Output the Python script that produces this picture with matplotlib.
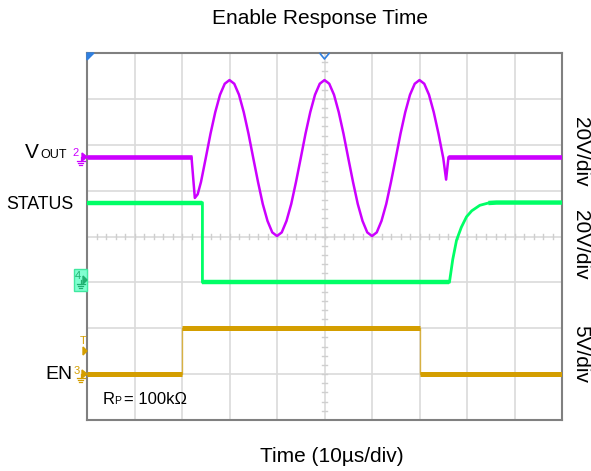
import matplotlib
matplotlib.use("Agg")
import matplotlib.pyplot as plt
import numpy as np
from matplotlib import font_manager
from matplotlib.patches import Rectangle, Polygon
from matplotlib.lines import Line2D

names = {f.name for f in font_manager.fontManager.ttflist}
BASE = "Liberation Sans" if "Liberation Sans" in names else "DejaVu Sans"
plt.rcParams['font.family'] = [BASE, 'DejaVu Sans']

# ---------------- data (in scope divisions) ----------------
title = "Enable Response Time"
xlabel = "Time (10µs/div)"
scale_labels = ["20V/div", "20V/div", "5V/div"]
rp_label = "= 100kΩ"

vout_t = [0.0, 2.20, 2.27, 2.33, 2.4, 2.5, 2.6, 2.7, 2.8, 2.9,
          3.0, 3.1, 3.2, 3.3, 3.4, 3.5, 3.6, 3.7, 3.8, 3.9,
          4.0, 4.1, 4.2, 4.3, 4.4, 4.5, 4.6, 4.7, 4.8, 4.9,
          5.0, 5.1, 5.2, 5.3, 5.4, 5.5, 5.6, 5.7, 5.8, 5.9,
          6.0, 6.1, 6.2, 6.3, 6.4, 6.5, 6.6, 6.7, 6.8, 6.9,
          7.0, 7.1, 7.2, 7.3, 7.4, 7.5, 7.56, 7.61, 10.0]
vout_v = [5.73, 5.73, 4.84, 4.92, 5.19, 5.71, 6.24, 6.71, 7.09, 7.33,
          7.41, 7.33, 7.09, 6.71, 6.24, 5.71, 5.19, 4.71, 4.34, 4.09,
          4.01, 4.09, 4.34, 4.71, 5.19, 5.71, 6.24, 6.71, 7.09, 7.33,
          7.41, 7.33, 7.09, 6.71, 6.24, 5.71, 5.19, 4.71, 4.34, 4.09,
          4.01, 4.09, 4.34, 4.71, 5.19, 5.71, 6.24, 6.71, 7.09, 7.33,
          7.41, 7.33, 7.09, 6.71, 6.24, 5.71, 5.24, 5.73, 5.73]

status_t = [0.0, 2.43, 2.43, 7.63, 7.70, 7.78, 7.88, 7.99, 8.10, 8.27, 8.45, 8.62, 10.0]
status_v = [4.74, 4.74, 3.00, 3.00, 3.50, 3.92, 4.20, 4.43, 4.56, 4.68, 4.73, 4.74, 4.74]

en_t = [0.0, 2.0, 2.0, 7.0, 7.0, 10.0]
en_v = [1.0, 1.0, 2.0, 2.0, 1.0, 1.0]

# ---------------- styling ----------------
C_VOUT = "#CC00FF"
C_STAT = "#00FF66"
C_EN = "#D49E00"
C_BLUE = "#2F7FE0"
C_GRID = "#DADADA"

W, H = 591, 471
fig = plt.figure(figsize=(W / 100, H / 100), dpi=100)
L, R, T, B = 87, 562, 53, 420
ax = fig.add_axes([L / W, 1 - B / H, (R - L) / W, (B - T) / H])
ax.set_xlim(0, 10)
ax.set_ylim(0, 8)
ax.set_xticks([])
ax.set_yticks([])
for s in ax.spines.values():
    s.set_color("#808080")
    s.set_linewidth(1.5)

for gx in range(1, 10):
    ax.axvline(gx, color=C_GRID, lw=1.2, zorder=1)
for gy in range(1, 8):
    ax.axhline(gy, color=C_GRID, lw=1.2, zorder=1)
for v in np.arange(0.2, 8, 0.2):
    ax.plot([4.94, 5.06], [v, v], color="#CFCFCF", lw=1.0, zorder=1)
for v in np.arange(0.2, 10, 0.2):
    ax.plot([v, v], [3.935, 4.065], color="#CFCFCF", lw=1.0, zorder=1)

# traces
ax.plot(vout_t, vout_v, color=C_VOUT, lw=1.8, zorder=4, solid_joinstyle="round")
ax.plot(vout_t[:2], vout_v[:2], color=C_VOUT, lw=3.3, zorder=4, solid_capstyle="butt")
ax.plot(vout_t[-2:], vout_v[-2:], color=C_VOUT, lw=3.3, zorder=4, solid_capstyle="butt")

ax.plot(status_t, status_v, color=C_STAT, lw=2.0, zorder=3, solid_joinstyle="round")
ax.plot(status_t[:2], status_v[:2], color=C_STAT, lw=3.2, zorder=3, solid_capstyle="butt")
ax.plot(status_t[2:4], status_v[2:4], color=C_STAT, lw=3.2, zorder=3, solid_capstyle="butt")
ax.plot(status_t[-3:], status_v[-3:], color=C_STAT, lw=3.2, zorder=3, solid_capstyle="butt")

ax.plot(en_t, en_v, color=C_EN, lw=1.0, alpha=0.7, zorder=3)
for i in (0, 2, 4):
    ax.plot(en_t[i:i + 2], en_v[i:i + 2], color=C_EN, lw=3.6, zorder=3, solid_capstyle="butt")


def fx(x):
    return x / W


def fy(y):
    return 1 - y / H


def fline(xs, ys, color, lw=0.9):
    fig.add_artist(Line2D([fx(x) for x in xs], [fy(y) for y in ys], color=color, lw=lw,
                          transform=fig.transFigure))


def ftri(pts, color, fill=True, lw=1.0):
    fig.add_artist(Polygon([(fx(x), fy(y)) for x, y in pts], closed=fill,
                           facecolor=color if fill else "none", edgecolor=color, lw=lw,
                           transform=fig.transFigure))


def ground(x, y, color):
    fline([x, x], [y, y + 4], color)
    fline([x - 4, x + 4], [y + 4, y + 4], color)
    fline([x - 2.5, x + 2.5], [y + 6, y + 6], color)
    fline([x - 1, x + 1], [y + 8, y + 8], color)


# channel markers on the left
fig.text(fx(75.5), fy(153), "2", color=C_VOUT, fontsize=8, ha="center", va="center")
ftri([(82, 153), (82, 161), (87, 157)], C_VOUT)
ground(80.5, 157, C_VOUT)

fig.add_artist(Rectangle((fx(74), fy(291)), (86.7 - 74) / W, (291 - 269) / H,
                         facecolor="#80FFD0", edgecolor="#40E8A0", lw=1.0,
                         transform=fig.transFigure))
fig.text(fx(78), fy(276), "4", color="#20B070", fontsize=8, ha="center", va="center")
ftri([(83, 276), (83, 284), (87, 280)], "#20B070")
ground(80.5, 280, "#20B070")

fig.text(fx(83), fy(341), "T", color=C_EN, fontsize=8, ha="center", va="center")
ftri([(83, 347), (83, 355), (87, 351)], C_EN)
fig.text(fx(77), fy(371), "3", color=C_EN, fontsize=8, ha="center", va="center")
ftri([(82, 370), (82, 378), (87, 374)], C_EN)
ground(80.5, 374, C_EN)

# blue markers on top
ftri([(87, 53), (94, 53), (87, 60)], C_BLUE)
fline([320, 324.5, 329], [53.5, 59, 53.5], C_BLUE, lw=1.2)

# left channel labels
fig.text(fx(25), fy(158.3), "V", fontsize=15, ha="left", va="baseline")
fig.text(fx(40.5), fy(158.3), "OUT", fontsize=9, ha="left", va="baseline")
fig.text(fx(6.5), fy(209.3), "STATUS", fontsize=12.8, ha="left", va="baseline")
fig.text(fx(45), fy(379.3), "EN", fontsize=14, ha="left", va="baseline")

# R_P label
fig.text(fx(103), fy(404.3), "R", fontsize=12, ha="left", va="baseline")
fig.text(fx(114.5), fy(404.3), "P", fontsize=7.5, ha="left", va="baseline")
fig.text(fx(123.5), fy(404.3), rp_label, fontsize=12, ha="left", va="baseline")

# right scale labels
for lab, yc in zip(scale_labels, [152, 245, 354]):
    fig.text(fx(581), fy(yc), lab, fontsize=15, rotation=270, ha="center", va="center")

# title and x label
fig.text(fx(320), fy(18), title, fontsize=15, ha="center", va="center")
fig.text(fx(332), fy(457), xlabel, fontsize=15, ha="center", va="center")

fig.savefig("out.png", dpi=100)
